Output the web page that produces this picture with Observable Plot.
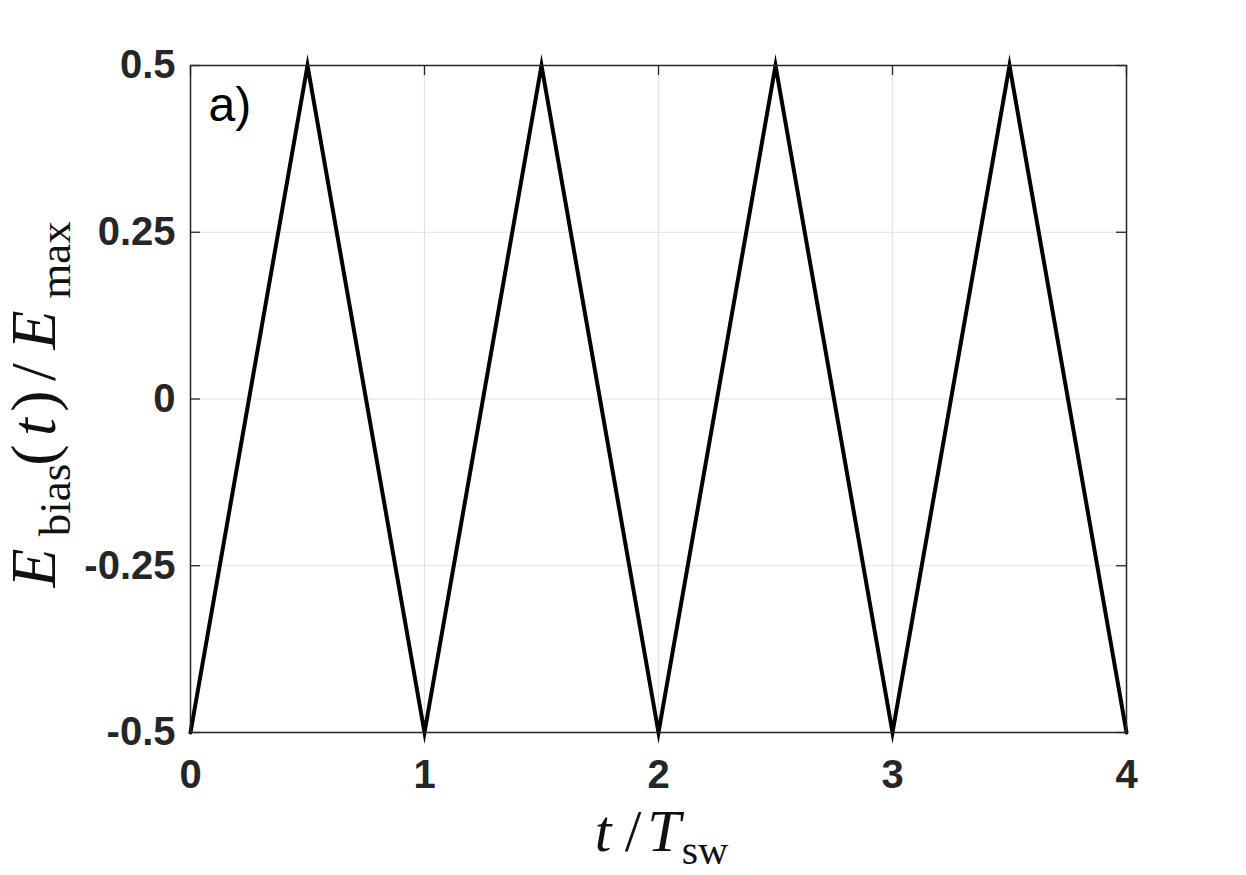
<!DOCTYPE html>
<html>
<head>
<meta charset="utf-8">
<script src="https://cdn.jsdelivr.net/npm/d3@7"></script>
<script src="https://cdn.jsdelivr.net/npm/@observablehq/plot@0.6"></script>
<style>
  body { margin: 0; background: #fff; }
  svg { display: block; }
</style>
</head>
<body>
<div id="chart"></div>
<script>
// ---- data ----
const tValues = [0, 0.5, 1, 1.5, 2, 2.5, 3, 3.5, 4];
const eValues = [-0.5, 0.5, -0.5, 0.5, -0.5, 0.5, -0.5, 0.5, -0.5];
const xTicks = [0, 1, 2, 3, 4];
const xTickLabels = ["0", "1", "2", "3", "4"];
const yTicks = [-0.5, -0.25, 0, 0.25, 0.5];
const yTickLabels = ["-0.5", "-0.25", "0", "0.25", "0.5"];
const panelLabel = "a)";

const data = tValues.map((t, i) => ({t, e: eValues[i]}));

const W = 1246, H = 875;
const mL = 190, mR = 120, mT = 65, mB = 143;
const pw = W - mL - mR, ph = H - mT - mB;
const tickLen = 10;
const axisColor = "#262626";
const tickFont = "Liberation Sans, Arial, Helvetica, sans-serif";

const svg = Plot.plot({
  width: W,
  height: H,
  marginLeft: mL,
  marginRight: mR,
  marginTop: mT,
  marginBottom: mB,
  style: {background: "#fff", overflow: "visible"},
  x: {domain: [0, 4], ticks: xTicks},
  y: {domain: [-0.5, 0.5], ticks: yTicks},
  marks: [
    Plot.gridX(xTicks, {stroke: "#e2e2e2", strokeOpacity: 1, strokeWidth: 1.2}),
    Plot.gridY(yTicks, {stroke: "#e2e2e2", strokeOpacity: 1, strokeWidth: 1.2}),
    // inward tick marks on all four sides
    Plot.ruleY(yTicks, {y: d => d, insetRight: pw - tickLen, stroke: axisColor, strokeWidth: 1.3}),
    Plot.ruleY(yTicks, {y: d => d, insetLeft: pw - tickLen, stroke: axisColor, strokeWidth: 1.3}),
    Plot.ruleX(xTicks, {x: d => d, insetTop: ph - tickLen, stroke: axisColor, strokeWidth: 1.3}),
    Plot.ruleX(xTicks, {x: d => d, insetBottom: ph - tickLen, stroke: axisColor, strokeWidth: 1.3}),
    Plot.line(data, {x: "t", y: "e", stroke: "black", strokeWidth: 4, strokeLinejoin: "miter", strokeMiterlimit: 20}),
    Plot.frame({stroke: axisColor, strokeWidth: 1.5}),
    Plot.axisX(xTicks, {
      tickSize: 0, tickPadding: 27, label: null,
      tickFormat: d => xTickLabels[xTicks.indexOf(d)],
      fontSize: 40, fontWeight: "bold", fill: axisColor, fontFamily: tickFont
    }),
    Plot.axisY(yTicks, {
      tickSize: 0, tickPadding: 15, label: null,
      tickFormat: d => yTickLabels[yTicks.indexOf(d)],
      fontSize: 40, fontWeight: "bold", fill: axisColor, fontFamily: tickFont
    }),
    Plot.text([panelLabel], {
      frameAnchor: "top-left", lineAnchor: "top", dx: 18, dy: 21, text: d => d,
      fontSize: 48, fill: "black", fontFamily: tickFont, textAnchor: "start"
    })
  ]
});

document.getElementById("chart").appendChild(svg);

// LaTeX-like axis labels (real text, one tspan per symbol, centred on its slot)
const s = d3.select(svg);
const serif = "'Liberation Serif', 'Times New Roman', serif";

function addLabel(g, parts, size, subSize, subDrop) {
  const t = g.append("text")
    .attr("font-family", serif)
    .attr("fill", "#111")
    .attr("text-anchor", "middle");
  parts.forEach(p => {
    t.append("tspan")
      .attr("x", p.c)
      .attr("y", p.sub ? subDrop : 0)
      .attr("font-size", p.sub ? subSize : size)
      .attr("font-style", p.it ? "italic" : "normal")
      .text(p.s);
  });
  return t;
}

// x label: slot centres measured in pixels along the axis direction
const gx = s.append("g").attr("transform", "translate(0, 851)");
addLabel(gx, [
  {s: "t", it: true, c: 603},
  {s: "/", c: 633},
  {s: "T", it: true, c: 664},
  {s: "sw", sub: true, c: 705}
], 60, 42, 13);

// y label: rotated; slot centres given as negative screen-y
const gy = s.append("g").attr("transform", "translate(55, 0) rotate(-90)");
addLabel(gy, [
  {s: "E", it: true, c: -568},
  {s: "bias", sub: true, c: -500},
  {s: "(", c: -455},
  {s: "t", it: true, c: -427},
  {s: ")", c: -401},
  {s: "/", c: -372},
  {s: "E", it: true, c: -330},
  {s: "max", sub: true, c: -260}
], 64, 45, 15);
</script>
</body>
</html>
